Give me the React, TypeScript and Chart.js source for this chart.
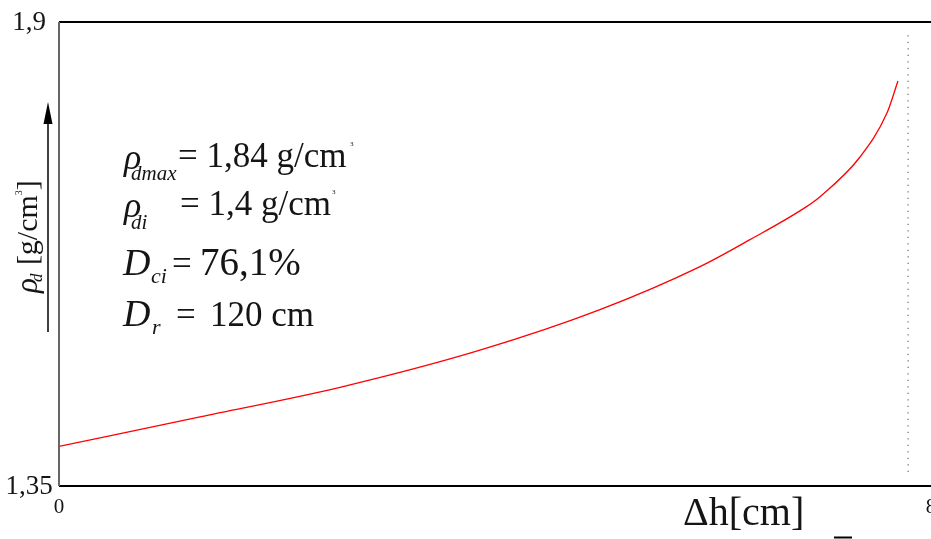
import React, { useEffect, useRef } from "react";
import { Chart, registerables } from "chart.js";

Chart.register(...registerables);

// ---- data ----
const deltaH = [0, 1.294, 2.578, 3.862, 4.963, 5.881, 6.339, 6.844, 6.982, 7.349, 7.596, 7.697];
const rhoD = [1.397, 1.432, 1.467, 1.511, 1.559, 1.61, 1.642, 1.68, 1.693, 1.74, 1.792, 1.83];
const limitX = [7.79, 7.79];
const limitY = [1.3666, 1.8905];
const xTickValues = [0, 8];
const xTickLabels = ["0", "8"];
const yTickValues = [1.35, 1.9];
const yTickLabels = ["1,35", "1,9"];
const xTitle = "Δh[cm]";

const SERIF = "'Liberation Serif', 'Times New Roman', serif";
const TXT = "#151515";

type Run = { t: string; x: number; y: number; size: number; italic?: boolean };

const annotationRuns: Run[] = [
  // line 1
  { t: "ρ", x: 124, y: 169, size: 36, italic: true },
  { t: "dmax", x: 131, y: 180, size: 21, italic: true },
  { t: "= 1,84 g/cm", x: 178, y: 167, size: 35 },
  { t: "3", x: 350, y: 146, size: 7 },
  // line 2
  { t: "ρ", x: 124, y: 217, size: 36, italic: true },
  { t: "di", x: 131, y: 229, size: 21, italic: true },
  { t: "= 1,4 g/cm", x: 180, y: 215, size: 35 },
  { t: "3", x: 332, y: 194, size: 7 },
  // line 3
  { t: "D", x: 123, y: 275, size: 38, italic: true },
  { t: "ci", x: 151, y: 283, size: 22, italic: true },
  { t: "=", x: 172, y: 275, size: 35 },
  { t: "76,1%", x: 200, y: 275, size: 39 },
  // line 4
  { t: "D", x: 123, y: 326, size: 38, italic: true },
  { t: "r", x: 152, y: 334, size: 22, italic: true },
  { t: "=", x: 176, y: 326, size: 35 },
  { t: "120 cm", x: 210, y: 326, size: 35 },
];

const decorPlugin = {
  id: "decor",
  afterDraw(chart: any) {
    const ctx: CanvasRenderingContext2D = chart.ctx;
    const { left, top, bottom } = chart.chartArea;
    const xs = chart.scales.x;
    const ys = chart.scales.y;
    const W = chart.width;
    ctx.save();
    // frame
    ctx.lineWidth = 2;
    ctx.strokeStyle = "#000";
    ctx.beginPath();
    ctx.moveTo(left, top);
    ctx.lineTo(W, top);
    ctx.moveTo(left, bottom);
    ctx.lineTo(W, bottom);
    ctx.stroke();
    ctx.strokeStyle = "#666";
    ctx.beginPath();
    ctx.moveTo(left, top);
    ctx.lineTo(left, bottom);
    ctx.stroke();

    // y ticks
    ctx.fillStyle = TXT;
    ctx.textBaseline = "alphabetic";
    ctx.font = `27px ${SERIF}`;
    ctx.textAlign = "center";
    yTickValues.forEach((v, i) => {
      const py = ys.getPixelForValue(v);
      ctx.fillText(yTickLabels[i], left - 30, py + 8);
    });
    // x ticks
    ctx.font = `21px ${SERIF}`;
    xTickValues.forEach((v, i) => {
      const px = xs.getPixelForValue(v);
      ctx.fillText(xTickLabels[i], px, bottom + 27);
    });
    // x title
    ctx.textAlign = "left";
    ctx.font = `40px ${SERIF}`;
    ctx.fillText(xTitle, 683, 525);

    // y title rotated
    ctx.save();
    ctx.translate(37, 293);
    ctx.rotate(-Math.PI / 2);
    let cx = 0;
    const part = (t: string, size: number, italic: boolean, dy: number) => {
      ctx.font = `${italic ? "italic " : ""}${size}px ${SERIF}`;
      ctx.fillText(t, cx, dy);
      cx += ctx.measureText(t).width;
    };
    part("ρ", 31, true, 0);
    cx -= 4;
    part("d", 17, true, 5);
    cx += 1;
    part(" [g/cm", 30, false, 0);
    part("3", 10, false, -15);
    part("]", 30, false, 0);
    ctx.restore();

    // y arrow
    ctx.strokeStyle = "#000";
    ctx.fillStyle = "#000";
    ctx.lineWidth = 1.5;
    ctx.beginPath();
    ctx.moveTo(48, 332);
    ctx.lineTo(48, 120);
    ctx.stroke();
    ctx.beginPath();
    ctx.moveTo(48, 102);
    ctx.lineTo(43.5, 124);
    ctx.lineTo(52.5, 124);
    ctx.closePath();
    ctx.fill();

    // small bottom arrow fragment
    ctx.lineWidth = 2;
    ctx.beginPath();
    ctx.moveTo(834, 537.5);
    ctx.lineTo(852, 537.5);
    ctx.stroke();

    // annotation block
    ctx.fillStyle = TXT;
    ctx.textAlign = "left";
    annotationRuns.forEach((r) => {
      ctx.font = `${r.italic ? "italic " : ""}${r.size}px ${SERIF}`;
      ctx.fillText(r.t, r.x, r.y);
    });
    ctx.restore();
  },
};

export default function App() {
  const ref = useRef<HTMLCanvasElement | null>(null);
  useEffect(() => {
    if (!ref.current) return;
    const chart = new Chart(ref.current, {
      type: "line",
      data: {
        datasets: [
          {
            data: deltaH.map((x, i) => ({ x, y: rhoD[i] })),
            borderColor: "#ff0000",
            borderWidth: 1.3,
            pointRadius: 0,
            cubicInterpolationMode: "monotone",
            fill: false,
          },
          {
            data: limitX.map((x, i) => ({ x, y: limitY[i] })),
            borderColor: "#777",
            borderWidth: 1.3,
            borderDash: [1.3, 5.2],
            pointRadius: 0,
            fill: false,
          },
        ],
      },
      options: {
        animation: false,
        responsive: false,
        devicePixelRatio: 1,
        layout: { padding: { left: 59, top: 22, right: 29, bottom: 53 } },
        plugins: { legend: { display: false }, tooltip: { enabled: false } },
        scales: {
          x: { type: "linear", min: 0, max: 8, display: false },
          y: { type: "linear", min: 1.35, max: 1.9, display: false },
        },
      },
      plugins: [decorPlugin],
    });
    return () => chart.destroy();
  }, []);
  return (
    <div style={{ position: "absolute", left: 0, top: 0, width: 931, height: 539, overflow: "hidden", background: "#fff" }}>
      <canvas ref={ref} width={960} height={539} style={{ display: "block" }} />
    </div>
  );
}
